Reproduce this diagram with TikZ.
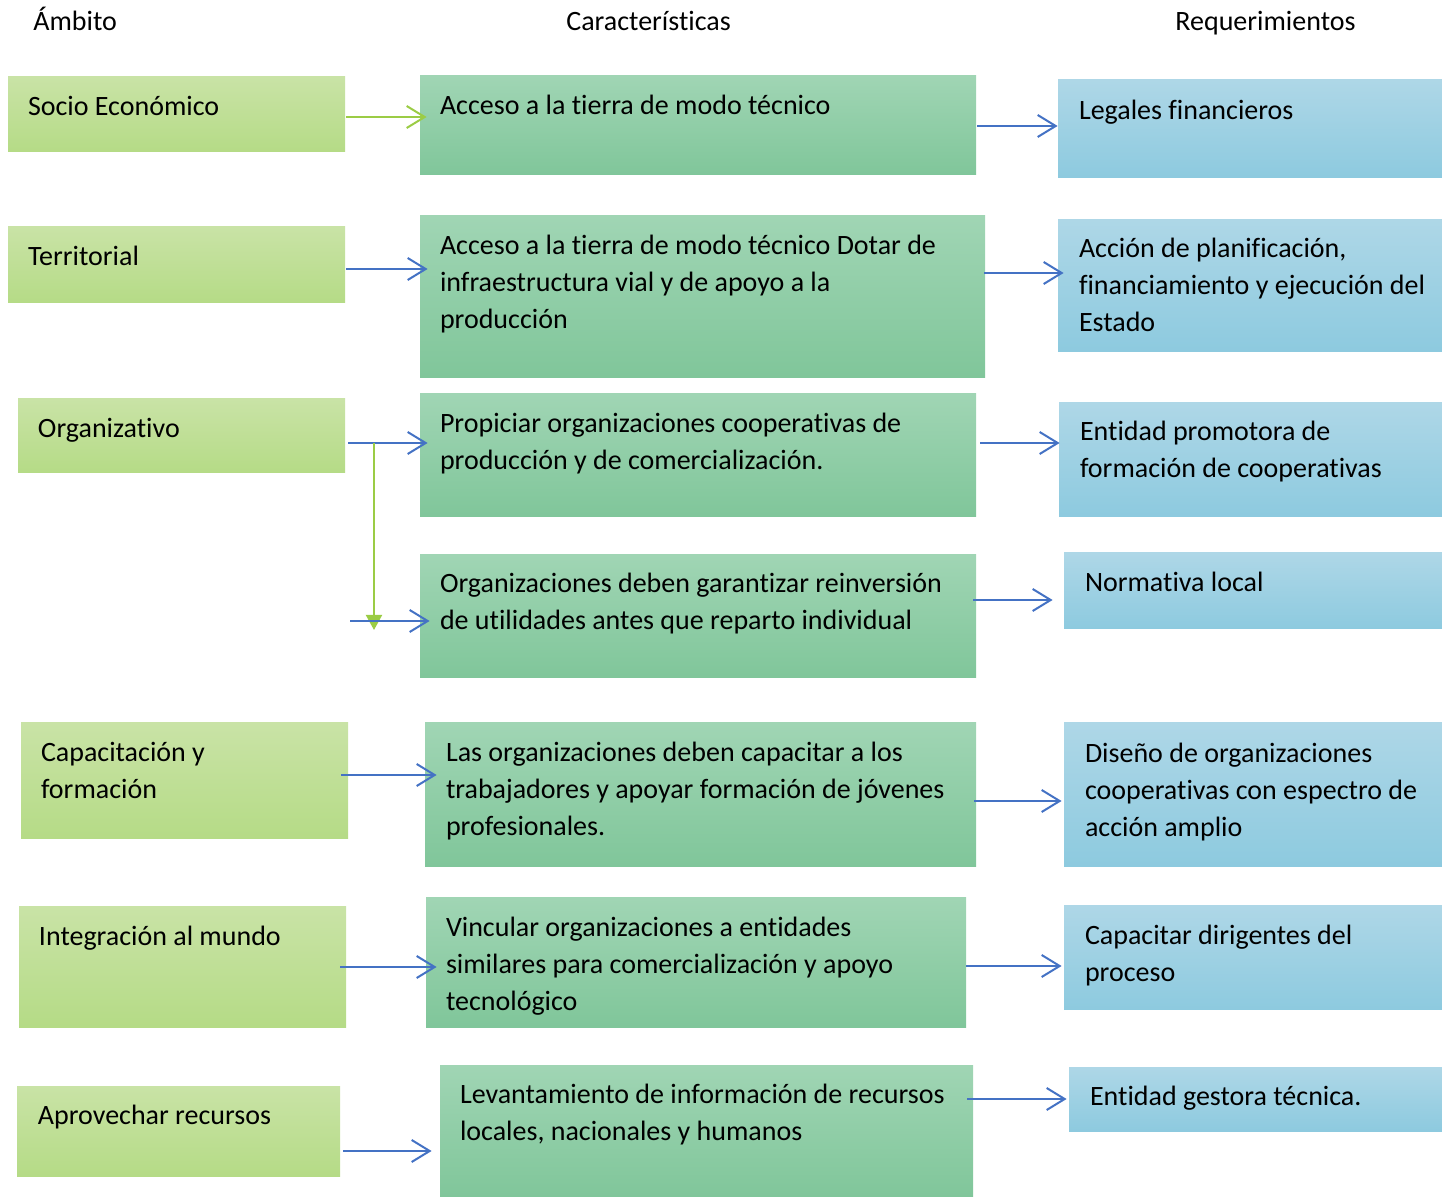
\documentclass[tikz,border=0pt]{standalone}
\usepackage{fontspec}
\setmainfont{Carlito}[Ligatures=NoCommon]
\usetikzlibrary{arrows.meta,fit}
\definecolor{ambtop}{HTML}{C9E3A6}
\definecolor{ambbot}{HTML}{B5DB86}
\definecolor{cartop}{HTML}{A0D5B4}
\definecolor{carbot}{HTML}{80C69A}
\definecolor{reqtop}{HTML}{AED7E7}
\definecolor{reqbot}{HTML}{8DCADF}
\definecolor{flechaazul}{HTML}{4472C4}
\definecolor{flechaverde}{HTML}{9BCC45}
\begin{document}
\begin{tikzpicture}[x=0.5pt,y=-0.5pt,
  font=\fontsize{14}{18.5}\selectfont,
  ambito/.style={top color=ambtop,bottom color=ambbot,inner sep=0},
  caract/.style={top color=cartop,bottom color=carbot,inner sep=0},
  requer/.style={top color=reqtop,bottom color=reqbot,inner sep=0},
  txt/.style={anchor=north west,inner sep=0,align=left},
  titulo/.style={anchor=base west,inner sep=0},
  barrow/.style={draw=flechaazul,line width=1pt,-{Straight Barb[length=9pt,width=11pt]}},
  garrow/.style={draw=flechaverde,line width=1pt,-{Straight Barb[length=9pt,width=11pt]}},
  tarrow/.style={draw=flechaverde,line width=1pt,-{Triangle[length=7.5pt,width=8pt]}}]
\useasboundingbox (0,0) rectangle (1442,1197);

\node[titulo] (h1) at (33,31) {Ámbito};
\node[titulo] (h2) at (566,31) {Características};
\node[titulo] (h3) at (1175,31) {Requerimientos};

% ambito
\node[ambito,fit={(8,77) (345,152)}] (soc) {};
\node[ambito,fit={(8,227) (345,303)}] (ter) {};
\node[ambito,fit={(18,399) (345,473)}] (org) {};
\node[ambito,fit={(21,723) (348,839)}] (cap) {};
\node[ambito,fit={(19,907) (346,1027)}] (int) {};
\node[ambito,fit={(17,1086) (340,1176)}] (apr) {};

% caracteristicas
\node[caract,fit={(420,76) (976,175)}] (c1) {};
\node[caract,fit={(420,216) (985,378)}] (c2) {};
\node[caract,fit={(420,394) (976,517)}] (c3) {};
\node[caract,fit={(420,555) (976,678)}] (c4) {};
\node[caract,fit={(425,723) (976,867)}] (c5) {};
\node[caract,fit={(426,898) (966,1027)}] (c6) {};
\node[caract,fit={(440,1065) (973,1197)}] (c7) {};

% requerimientos
\node[requer,fit={(1058,80) (1442,178)}] (r1) {};
\node[requer,fit={(1058,220) (1442,352)}] (r2) {};
\node[requer,fit={(1059,403) (1442,517)}] (r3) {};
\node[requer,fit={(1064,553) (1442,629)}] (r4) {};
\node[requer,fit={(1064,723) (1442,867)}] (r5) {};
\node[requer,fit={(1064,906) (1442,1010)}] (r6) {};
\node[requer,fit={(1069,1067) (1442,1131)}] (r7) {};

\node[txt] (soc-t) at ([shift={(20,13)}]soc.north west) {\strut Socio Económico};
\node[txt] (ter-t) at ([shift={(20,13)}]ter.north west) {\strut Territorial};
\node[txt] (org-t) at ([shift={(20,13)}]org.north west) {\strut Organizativo};
\node[txt] (cap-t) at ([shift={(20,13)}]cap.north west) {\strut Capacitación y\\formación};
\node[txt] (int-t) at ([shift={(20,13)}]int.north west) {\strut Integración al mundo};
\node[txt] (apr-t) at ([shift={(21,13)}]apr.north west) {\strut Aprovechar recursos};

\node[txt] (c1-t) at ([shift={(20,13)}]c1.north west) {\strut Acceso a la tierra de modo técnico};
\node[txt] (c2-t) at ([shift={(20,13)}]c2.north west) {\strut Acceso a la tierra de modo técnico Dotar de\\infraestructura vial y de apoyo a la\\producción};
\node[txt] (c3-t) at ([shift={(20,13)}]c3.north west) {\strut Propiciar organizaciones cooperativas de\\producción y de comercialización.};
\node[txt] (c4-t) at ([shift={(20,12)}]c4.north west) {\strut Organizaciones deben garantizar reinversión\\de utilidades antes que reparto individual};
\node[txt] (c5-t) at ([shift={(21,13)}]c5.north west) {\strut Las organizaciones deben capacitar a los\\trabajadores y apoyar formación de jóvenes\\profesionales.};
\node[txt] (c6-t) at ([shift={(20,13)}]c6.north west) {\strut Vincular organizaciones a entidades\\similares para comercialización y apoyo\\tecnológico};
\node[txt] (c7-t) at ([shift={(20,13)}]c7.north west) {\strut Levantamiento de información de recursos\\locales, nacionales y humanos};

\node[txt] (r1-t) at ([shift={(21,14)}]r1.north west) {\strut Legales financieros};
\node[txt] (r2-t) at ([shift={(21,12)}]r2.north west) {\strut Acción de planificación,\\financiamiento y ejecución del\\Estado};
\node[txt] (r3-t) at ([shift={(21,12)}]r3.north west) {\strut Entidad promotora de\\formación de cooperativas};
\node[txt] (r4-t) at ([shift={(21,13)}]r4.north west) {\strut Normativa local};
\node[txt] (r5-t) at ([shift={(21,14)}]r5.north west) {\strut Diseño de organizaciones\\cooperativas con espectro de\\acción amplio};
\node[txt] (r6-t) at ([shift={(21,13)}]r6.north west) {\strut Capacitar dirigentes del\\proceso};
\node[txt] (r7-t) at ([shift={(21,13)}]r7.north west) {\strut Entidad gestora técnica.};

% flechas
\draw[garrow] ([shift={(1,0)}]soc.east |- 0,117) -- ([shift={(7,0)}]c1.west |- 0,117);
\foreach \a/\b/\y/\s/\e in {ter/c2/269/1/8,org/c3/443/3/8,cap/c5/775/-7/12,int/c6/967/-6/11,apr/c7/1151/3/-8,
    c1/r1/126/1/0,c2/r2/273/-1/6,c3/r3/443/4/1,c4/r4/600/-3/-11,c5/r5/801/-2/-2,c6/r6/966/0/-2,c7/r7/1099/-6/-2}
    \draw[barrow] ([shift={(\s,0)}]\a.east |- 0,\y) -- ([shift={(\e,0)}]\b.west |- 0,\y);

\coordinate (rama) at (374,443);
\coordinate (rama-fin) at (374,630);
\draw[tarrow] (rama) -- (rama-fin);
\coordinate (o4) at (350,621);
\draw[barrow] (o4) -- ([shift={(10,0)}]c4.west |- o4);
\end{tikzpicture}
\end{document}
